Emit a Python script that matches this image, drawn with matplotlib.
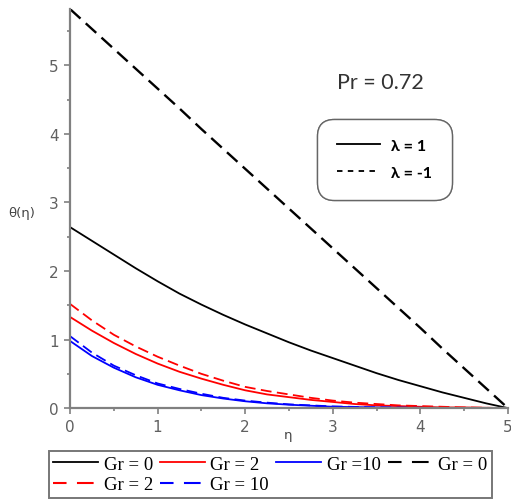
# temperature profiles theta(eta) for Pr = 0.72

import matplotlib.pyplot as plt
from matplotlib.lines import Line2D
from matplotlib.ticker import MultipleLocator

# eta grid and values
eta = [0, 0.25, 0.5, 0.75, 1, 1.25, 1.5, 1.75, 2, 2.25, 2.5,
       2.75, 3, 3.25, 3.5, 3.75, 4, 4.25, 4.5, 4.75, 5]

# lambda = 1
th_gr0_l1 = [2.64, 2.44, 2.24, 2.04, 1.85, 1.67, 1.51, 1.36, 1.22, 1.09, 0.96,
             0.84, 0.73, 0.62, 0.51, 0.41, 0.32, 0.23, 0.15, 0.07, 0.0]
th_gr2_l1 = [1.33, 1.13, 0.95, 0.79, 0.65, 0.53, 0.43, 0.34, 0.26, 0.20, 0.16,
             0.12, 0.09, 0.06, 0.04, 0.03, 0.02, 0.01, 0.01, 0.005, 0.0]
th_gr10_l1 = [0.98, 0.76, 0.59, 0.45, 0.34, 0.26, 0.19, 0.14, 0.10, 0.07, 0.05,
              0.035, 0.02, 0.015, 0.01, 0.005, 0.003, 0.002, 0.001, 0.0, 0.0]
# lambda = -1
th_gr0_lm1 = [5.82, 5.53, 5.24, 4.95, 4.66, 4.37, 4.07, 3.78, 3.49, 3.20, 2.91,
              2.62, 2.33, 2.04, 1.75, 1.46, 1.17, 0.87, 0.58, 0.29, 0.0]
th_gr2_lm1 = [1.52, 1.28, 1.07, 0.90, 0.75, 0.62, 0.50, 0.40, 0.31, 0.25, 0.20,
              0.15, 0.11, 0.08, 0.06, 0.04, 0.03, 0.02, 0.01, 0.005, 0.0]
th_gr10_lm1 = [1.05, 0.81, 0.62, 0.48, 0.36, 0.28, 0.21, 0.15, 0.11, 0.08, 0.055,
               0.04, 0.025, 0.018, 0.012, 0.008, 0.005, 0.003, 0.002, 0.001, 0.0]

fig = plt.figure(figsize=(5.11, 5.02), dpi=100)
ax = fig.add_axes([0.137, 0.185, 0.857, 0.795])

lw = 1.3
dash = (0, (6, 3))
ax.plot(eta, th_gr0_l1, color='black', lw=lw)
ax.plot(eta, th_gr2_l1, color='red', lw=lw)
ax.plot(eta, th_gr10_l1, color='blue', lw=lw)
ax.plot(eta, th_gr0_lm1, color='black', lw=lw + 0.4, ls=dash)
ax.plot(eta, th_gr2_lm1, color='red', lw=lw, ls=dash)
ax.plot(eta, th_gr10_lm1, color='blue', lw=lw, ls=dash)

ax.set_xlim(0, 5)
ax.set_ylim(0, 5.82)
ax.spines['top'].set_visible(False)
ax.spines['right'].set_visible(False)
for s in ['left', 'bottom']:
    ax.spines[s].set_color('#808080')
    ax.spines[s].set_linewidth(1.6)
ax.xaxis.set_major_locator(MultipleLocator(1))
ax.yaxis.set_major_locator(MultipleLocator(1))
ax.xaxis.set_minor_locator(MultipleLocator(0.5))
ax.yaxis.set_minor_locator(MultipleLocator(0.5))
ax.tick_params(which='both', direction='out', colors='#808080', labelcolor='#606060', labelsize=11)
ax.tick_params(which='major', length=4.5, width=1.2)
ax.tick_params(which='minor', length=2.5, width=1.2)

ax.text(-0.11, 0.49, 'θ(η)', transform=ax.transAxes, fontsize=9.5, color='#444444', ha='center', va='center')
ax.text(0.498, -0.065, 'η', transform=ax.transAxes, fontsize=9.5, color='#444444', ha='center', va='center')

ax.text(3.54, 4.75, 'Pr = 0.72', fontsize=15.5, color='#333333', family='Lato', ha='center', va='center')

# inner legend for lambda
lam_handles = [Line2D([], [], color='black', lw=1.3),
               Line2D([], [], color='black', lw=1.3, ls=(0, (3, 3)))]
leg2 = ax.legend(lam_handles, ['λ = 1', 'λ = -1'], loc='center', bbox_to_anchor=(0.718, 0.624),
                 frameon=True, fancybox=True, handlelength=2.7, handletextpad=0.7,
                 prop={'family': 'Lato', 'weight': 'bold', 'size': 11.5},
                 borderpad=1.25, labelspacing=0.8)
leg2.get_frame().set_edgecolor('#555555')
leg2.get_frame().set_linewidth(1.0)
leg2.get_frame().set_boxstyle('round', pad=0, rounding_size=1.1)
ax.add_artist(leg2)

# bottom legend for Gr (order chosen so rows fill like the original)
ldash = (1.5, (8, 5))
handles = [Line2D([], [], color='black', lw=lw),
           Line2D([], [], color='red', lw=lw + 0.2, ls=ldash),
           Line2D([], [], color='red', lw=lw),
           Line2D([], [], color='blue', lw=lw + 0.2, ls=ldash),
           Line2D([], [], color='blue', lw=lw),
           Line2D([], [], color='black', lw=lw + 0.2, ls=ldash)]
labels = ['Gr = 0', 'Gr = 2', 'Gr = 2', 'Gr = 10', 'Gr =10', 'Gr = 0']
leg = fig.legend(handles, labels, loc='center', bbox_to_anchor=(0.529, 0.053), ncol=4,
                 frameon=True, fancybox=False,
                 prop={'family': 'Liberation Serif', 'size': 13.5}, handlelength=2.4,
                 columnspacing=0.4, handletextpad=0.27, borderpad=0.25, labelspacing=0.2)
leg.get_frame().set_edgecolor('#555555')
leg.get_frame().set_linewidth(1.4)

fig.savefig('out.png', dpi=100)
